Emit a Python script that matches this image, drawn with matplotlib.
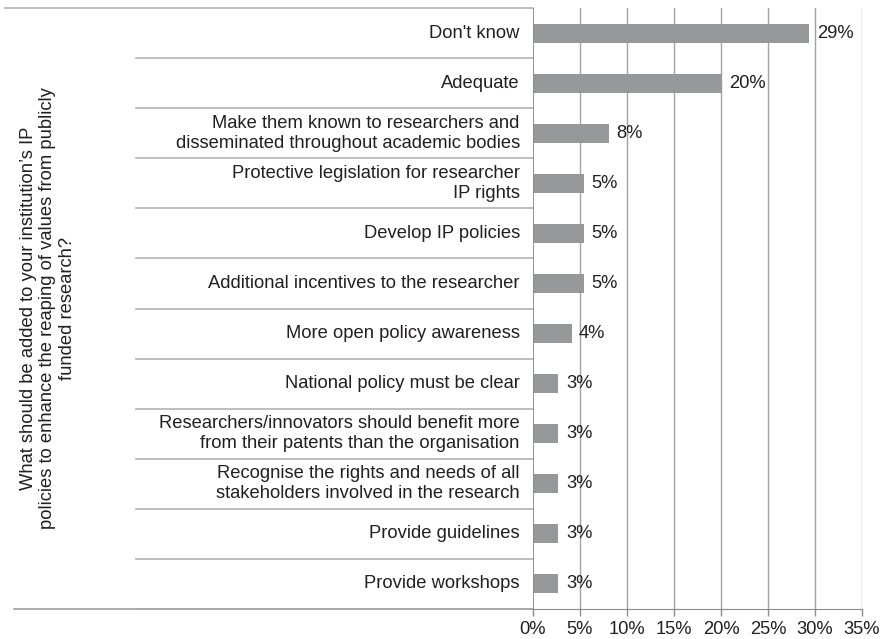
import numpy as np
import matplotlib
matplotlib.use("Agg")
import matplotlib.pyplot as plt

plt.rcParams['font.family'] = ['Liberation Sans', 'DejaVu Sans']

# answers, top to bottom
categories = [
    "Don't know",
    "Adequate",
    "Make them known to researchers and\ndisseminated throughout academic bodies",
    "Protective legislation for researcher\nIP rights",
    "Develop IP policies",
    "Additional incentives to the researcher",
    "More open policy awareness",
    "National policy must be clear",
    "Researchers/innovators should benefit more\nfrom their patents than the organisation",
    "Recognise the rights and needs of all\nstakeholders involved in the research",
    "Provide guidelines",
    "Provide workshops",
]
values = [29.4, 20.1, 8.1, 5.4, 5.4, 5.4, 4.1, 2.7, 2.7, 2.7, 2.7, 2.7]
value_labels = ['29%', '20%', '8%', '5%', '5%', '5%', '4%', '3%', '3%', '3%', '3%', '3%']
xticks = [0, 5, 10, 15, 20, 25, 30, 35]
ylabel = ("What should be added to your institution\u2019s IP\n"
          "policies to enhance the reaping of values from publicly\n"
          "funded research?")

txt = '#231f20'
grid = '#a3a3a3'
bar_col = '#97989a'
fs = 13.2

fig = plt.figure(figsize=(8.83, 6.39), dpi=100)
ax = fig.add_axes([533/883, 1 - 609/639, 329/883, 601/639])

y = np.arange(len(categories))
ax.barh(y, values, height=0.38, color=bar_col, zorder=3)
for yi, v, lab in zip(y, values, value_labels):
    ax.text(v + 0.8, yi, lab, va='center', ha='left', fontsize=fs, color=txt, zorder=4)

ax.set_xlim(0, 35)
ax.set_ylim(len(categories) - 0.5, -0.5)
ax.set_xticks(xticks)
ax.set_xticklabels([f'{t}%' for t in xticks], fontsize=fs, color=txt)
ax.tick_params(axis='x', length=5, width=1, color='#8c8c8c', pad=4)
ax.set_yticks([])
for xg in xticks[1:]:
    ax.axvline(xg, color=grid, lw=1, zorder=1)

for s in ['top', 'right', 'left']:
    ax.spines[s].set_visible(False)
ax.spines['bottom'].set_color('#8c8c8c')
ax.axvline(0, color='#8c8c8c', lw=1.3, zorder=5)

# category labels and separators
tr = ax.get_yaxis_transform()
for yi, cat in zip(y, categories):
    ax.text(-0.04, yi, cat, transform=tr, ha='right', va='center',
            fontsize=fs, color=txt, linespacing=1.25, multialignment='right')
for b in np.arange(0.5, len(categories), 1.0):
    ax.plot([-1.207, 0], [b, b], transform=tr, color='#b3b3b3', lw=1.2, clip_on=False)
ax.plot([-1.605, 0], [-0.5, -0.5], transform=tr, color='#b3b3b3', lw=1.2, clip_on=False)
ax.plot([-1.578, 0], [len(categories) - 0.5, len(categories) - 0.5], transform=tr,
        color='#a8a8a8', lw=1.3, clip_on=False)

fig.text(48/883, 1 - 308/639, ylabel, rotation=90, ha='center', va='center',
         fontsize=fs, color=txt, linespacing=1.2, multialignment='center')

fig.savefig('out.png', dpi=100)
